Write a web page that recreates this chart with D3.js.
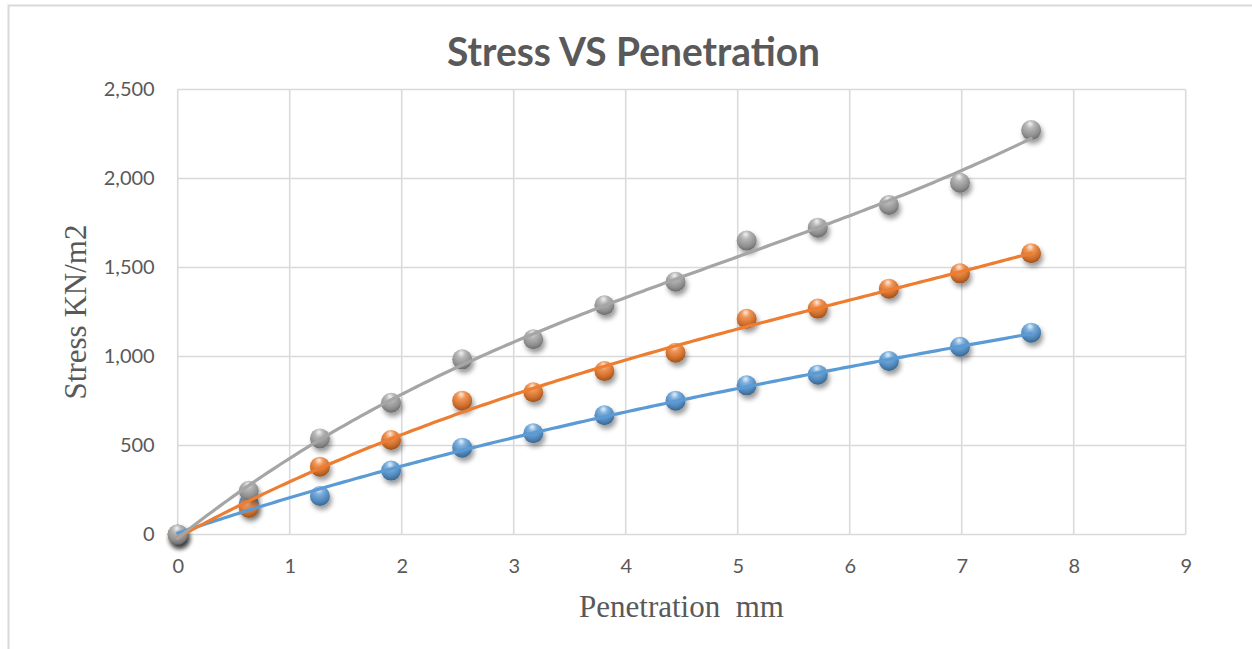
<!DOCTYPE html>
<html>
<head>
<meta charset="utf-8">
<script src="https://cdn.jsdelivr.net/npm/d3@7"></script>
<style>
  html, body { margin: 0; padding: 0; background: #fff; }
  svg { display: block; }
</style>
</head>
<body>
<svg id="chart" width="1252" height="649"></svg>
<script>
// Penetration readings (mm) and stress values (kN/m²) for the three test curves
const penetration = [0, 0.635, 1.27, 1.905, 2.54, 3.175, 3.81, 4.445, 5.08, 5.715, 6.35, 6.985, 7.62];
const stressA = [0, 175, 216, 359, 488, 569, 670, 752, 838, 898, 975, 1055, 1134];
const stressB = [0, 150, 381, 531, 752, 799, 918, 1021, 1212, 1269, 1381, 1467, 1580];
const stressC = [0, 246, 540, 740, 984, 1097, 1288, 1420, 1651, 1724, 1851, 1976, 2272];
const seriesColors = ["#5B9BD5", "#ED7D31", "#A5A5A5"];
const xTicks = [0, 1, 2, 3, 4, 5, 6, 7, 8, 9];
const yTicks = [0, 500, 1000, 1500, 2000, 2500];

const series = [stressA, stressB, stressC].map((vals, i) => ({
  id: "s" + i,
  color: seriesColors[i],
  points: penetration.map((x, j) => ({ x, y: vals[j] }))
}));

const svg = d3.select("#chart");
const x = d3.scaleLinear().domain([0, 9]).range([177.7, 1185.7]);
const y = d3.scaleLinear().domain([0, 2500]).range([534.5, 89.5]);
const textColor = "#595959";
const gridColor = "#d9d9d9";

// chart frame
svg.append("path")
  .attr("d", "M8.5,660 V5.5 H1260")
  .attr("fill", "none").attr("stroke", gridColor).attr("stroke-width", 2);

// defs: sphere gradients and marker shadow
const defs = svg.append("defs");
series.forEach(s => {
  const c = d3.color(s.color);
  const g = defs.append("radialGradient").attr("id", "grad-" + s.id)
    .attr("cx", "45%").attr("cy", "30%").attr("r", "70%").attr("fx", "45%").attr("fy", "18%");
  g.append("stop").attr("offset", "0%").attr("stop-color", d3.interpolateRgb(c, "#fff")(0.85));
  g.append("stop").attr("offset", "30%").attr("stop-color", d3.interpolateRgb(c, "#fff")(0.2));
  g.append("stop").attr("offset", "75%").attr("stop-color", c.darker(0.4));
  g.append("stop").attr("offset", "100%").attr("stop-color", c.darker(1.2));
});
const shadow = defs.append("filter").attr("id", "shadow")
  .attr("x", "-60%").attr("y", "-60%").attr("width", "220%").attr("height", "240%");
shadow.append("feGaussianBlur").attr("in", "SourceAlpha").attr("stdDeviation", 2.5).attr("result", "b");
shadow.append("feOffset").attr("in", "b").attr("dx", 1.5).attr("dy", 4).attr("result", "o");
shadow.append("feComponentTransfer").attr("in", "o").attr("result", "s")
  .append("feFuncA").attr("type", "linear").attr("slope", 0.4);
const merge = shadow.append("feMerge");
merge.append("feMergeNode").attr("in", "s");
merge.append("feMergeNode").attr("in", "SourceGraphic");

// gridlines
const grid = svg.append("g");
grid.selectAll(".gx").data(xTicks).join("line")
  .attr("x1", d => x(d)).attr("x2", d => x(d))
  .attr("y1", y(0)).attr("y2", y(2500))
  .attr("stroke", gridColor).attr("stroke-width", 1.5);
grid.selectAll(".gy").data(yTicks).join("line")
  .attr("x1", x(0)).attr("x2", x(9))
  .attr("y1", d => y(d)).attr("y2", d => y(d))
  .attr("stroke", gridColor).attr("stroke-width", 1.5);

// axes (labels only)
const fmt = d3.format(",");
const xAxis = svg.append("g").attr("transform", `translate(0,${y(0)})`)
  .call(d3.axisBottom(x).tickValues(xTicks).tickSize(0).tickPadding(24).tickFormat(d3.format("d")));
const yAxis = svg.append("g").attr("transform", `translate(${x(0)},0)`)
  .call(d3.axisLeft(y).tickValues(yTicks).tickSize(0).tickPadding(23).tickFormat(fmt));
[xAxis, yAxis].forEach(a => {
  a.select(".domain").remove();
  a.selectAll("text").attr("fill", textColor)
    .style("font-family", "Lato, 'Open Sans', sans-serif").style("font-size", "20px");
});

// markers
series.forEach(s => {
  svg.append("g").attr("filter", "url(#shadow)")
    .selectAll("circle").data(s.points).join("circle")
    .attr("cx", d => x(d.x)).attr("cy", d => y(d.y)).attr("r", 10)
    .attr("fill", `url(#grad-${s.id})`);
});

// cubic least-squares trendline for each series
function polyFit(pts, order) {
  const n = order + 1;
  const A = Array.from({ length: n }, () => new Array(n + 1).fill(0));
  pts.forEach(p => {
    for (let r = 0; r < n; r++) {
      for (let c = 0; c < n; c++) A[r][c] += Math.pow(p.x, r + c);
      A[r][n] += p.y * Math.pow(p.x, r);
    }
  });
  for (let i = 0; i < n; i++) {
    let piv = i;
    for (let k = i + 1; k < n; k++) if (Math.abs(A[k][i]) > Math.abs(A[piv][i])) piv = k;
    [A[i], A[piv]] = [A[piv], A[i]];
    for (let k = 0; k < n; k++) {
      if (k === i) continue;
      const f = A[k][i] / A[i][i];
      for (let c = i; c <= n; c++) A[k][c] -= f * A[i][c];
    }
  }
  return A.map((row, i) => row[n] / row[i]);
}
const line = d3.line().x(d => x(d.x)).y(d => y(d.y)).curve(d3.curveLinear);
series.forEach(s => {
  const coef = polyFit(s.points, 3);
  const xMax = d3.max(s.points, d => d.x);
  const curve = d3.range(0, 201).map(i => {
    const xv = xMax * i / 200;
    return { x: xv, y: coef.reduce((acc, c, k) => acc + c * Math.pow(xv, k), 0) };
  });
  svg.append("path").datum(curve)
    .attr("d", line).attr("fill", "none")
    .attr("stroke", s.color).attr("stroke-width", 3.2).attr("stroke-linecap", "round");
});

// titles
svg.append("text")
  .attr("x", 633.5).attr("y", 66).attr("text-anchor", "middle")
  .attr("fill", textColor)
  .attr("textLength", 373).attr("lengthAdjust", "spacingAndGlyphs")
  .style("font-family", "Lato, 'Open Sans', sans-serif").style("font-weight", "bold").style("font-size", "40px")
  .text("Stress VS Penetration");

svg.append("text")
  .attr("x", 681.5).attr("y", 617).attr("text-anchor", "middle")
  .attr("fill", textColor)
  .style("white-space", "pre")
  .style("font-family", "'Liberation Serif', 'Times New Roman', serif").style("font-size", "31px")
  .text("Penetration  mm");

svg.append("text")
  .attr("transform", "translate(86,312) rotate(-90)").attr("text-anchor", "middle")
  .attr("fill", textColor)
  .style("font-family", "'Liberation Serif', 'Times New Roman', serif").style("font-size", "31px")
  .text("Stress KN/m2");
</script>
</body>
</html>
